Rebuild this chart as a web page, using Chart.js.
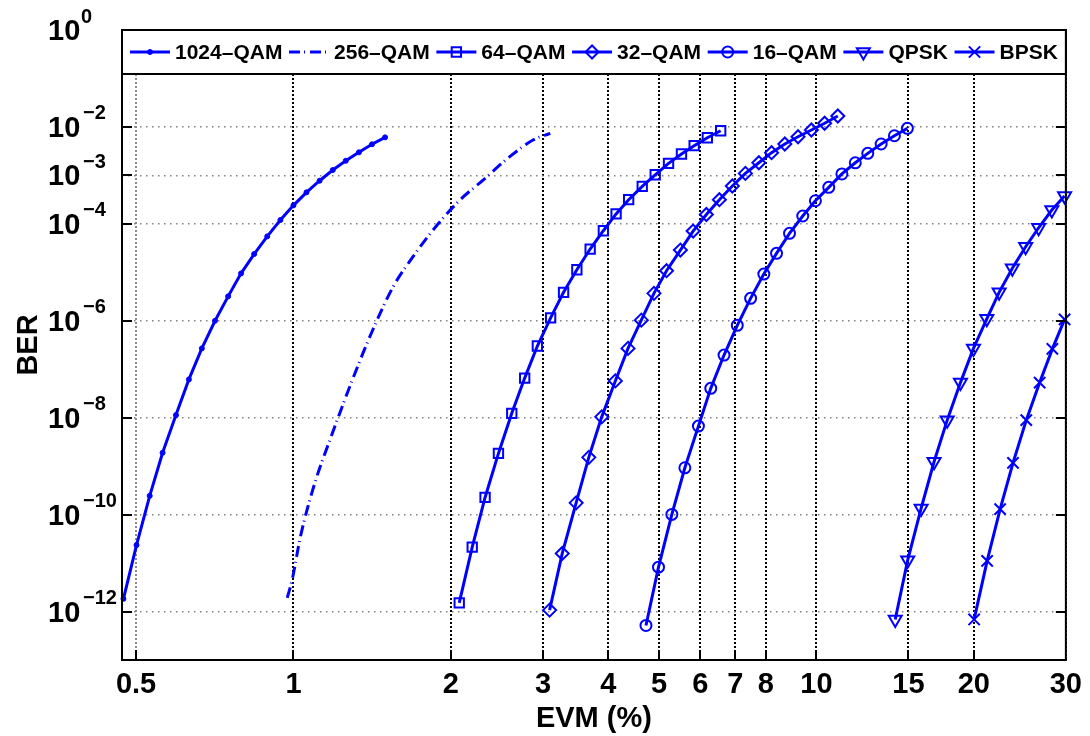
<!DOCTYPE html>
<html>
<head>
<meta charset="utf-8">
<script src="https://cdn.jsdelivr.net/npm/chart.js@4.4.0/dist/chart.umd.min.js"></script>
<style>
  body { margin: 0; background: #fff; }
  #wrap { width: 1090px; height: 736px; }
</style>
</head>
<body>
<div id="wrap"><canvas id="berChart" width="1090" height="736"></canvas></div>
<script>
const xTicks = [0.5, 1, 2, 3, 4, 5, 6, 7, 8, 10, 15, 20, 30];
const yTicks = [1, 1e-2, 1e-3, 1e-4, 1e-6, 1e-8, 1e-10, 1e-12];
const seriesLabels = ['1024\u2013QAM', '256\u2013QAM', '64\u2013QAM', '32\u2013QAM', '16\u2013QAM', 'QPSK', 'BPSK'];

const evm1024 = [0.473, 0.501, 0.531, 0.562, 0.596, 0.631, 0.668, 0.708, 0.750, 0.794, 0.841, 0.891, 0.944, 1.0, 1.059, 1.122, 1.189, 1.259, 1.334, 1.413, 1.497];
const ber1024 = [1.83e-12, 2.35e-11, 2.44e-10, 1.89e-9, 1.13e-8, 6.17e-8, 2.69e-7, 1.0e-6, 3.19e-6, 9.5e-6, 2.38e-5, 5.52e-5, 1.2e-4, 2.41e-4, 4.47e-4, 7.76e-4, 1.29e-3, 2.0e-3, 2.99e-3, 4.38e-3, 6.1e-3];

const evm256 = [0.973, 0.994, 1.031, 1.093, 1.193, 1.303, 1.413, 1.551, 1.693, 1.849, 2.081, 2.305, 2.592, 2.871, 3.098];
const ber256 = [1.92e-12, 4.45e-12, 3.48e-11, 3.75e-10, 5.55e-9, 6.98e-8, 5.93e-7, 5.03e-6, 2.1e-5, 7.45e-5, 3.1e-4, 8.0e-4, 2.43e-3, 5.37e-3, 7.38e-3];

const evm64 = [2.075, 2.197, 2.325, 2.466, 2.615, 2.768, 2.927, 3.103, 3.285, 3.483, 3.693, 3.914, 4.140, 4.375, 4.645, 4.918, 5.215, 5.521, 5.838, 6.187, 6.561];
const ber64 = [1.51e-12, 2.13e-11, 2.26e-10, 1.83e-9, 1.23e-8, 6.56e-8, 3.01e-7, 1.15e-6, 3.86e-6, 1.13e-5, 3.02e-5, 7.21e-5, 1.6e-4, 3.15e-4, 5.95e-4, 1.03e-3, 1.77e-3, 2.76e-3, 4.1e-3, 5.98e-3, 8.35e-3];

const evm32 = [3.089, 3.266, 3.472, 3.671, 3.886, 4.126, 4.363, 4.626, 4.891, 5.170, 5.495, 5.812, 6.161, 6.524, 6.907, 7.316, 7.762, 8.209, 8.703, 9.224, 9.783, 10.37, 10.99];
const ber32 = [1.07e-12, 1.58e-11, 1.75e-10, 1.52e-9, 1.04e-8, 5.74e-8, 2.69e-7, 1.03e-6, 3.68e-6, 1.08e-5, 2.88e-5, 7.1e-5, 1.56e-4, 3.15e-4, 6.03e-4, 1.1e-3, 1.82e-3, 2.94e-3, 4.44e-3, 6.28e-3, 8.63e-3, 1.19e-2, 1.68e-2];

const evm16 = [4.722, 4.990, 5.292, 5.604, 5.949, 6.281, 6.659, 7.059, 7.485, 7.935, 8.390, 8.884, 9.417, 9.957, 10.56, 11.19, 11.87, 12.54, 13.30, 14.10, 14.93];
const ber16 = [5.16e-13, 8.24e-12, 1.01e-10, 9.25e-10, 6.71e-9, 4.03e-8, 1.96e-7, 8.04e-7, 2.9e-6, 9.2e-6, 2.46e-5, 6.37e-5, 1.45e-4, 3.0e-4, 5.66e-4, 1.07e-3, 1.82e-3, 2.85e-3, 4.44e-3, 6.58e-3, 9.35e-3];

const evmQpsk = [14.15, 14.95, 15.86, 16.79, 17.79, 18.86, 19.97, 21.18, 22.36, 23.70, 25.13, 26.61, 28.20, 29.83];
const berQpsk = [6.87e-13, 1.15e-11, 1.34e-10, 1.23e-9, 8.9e-9, 5.3e-8, 2.69e-7, 1.1e-6, 3.86e-6, 1.21e-5, 3.37e-5, 8.3e-5, 1.93e-4, 3.75e-4];

const evmBpsk = [20.03, 21.21, 22.46, 23.77, 25.20, 26.73, 28.27, 29.83];
const berBpsk = [6.87e-13, 1.11e-11, 1.3e-10, 1.17e-9, 8.9e-9, 5.3e-8, 2.63e-7, 1.07e-6];

const blue = '#0000ff';
const FONT = '"Liberation Sans", Arial, sans-serif';

function pts(xs, ys) {
    return xs.map((x, i) => ({ x: x, y: ys[i] }));
}

function series(i, xs, ys, extra) {
    return Object.assign({
        label: seriesLabels[i],
        data: pts(xs, ys),
        borderColor: blue,
        backgroundColor: 'rgba(0,0,0,0)',
        borderWidth: 3,
        pointBorderColor: blue,
        pointBackgroundColor: 'rgba(0,0,0,0)',
        pointBorderWidth: 2,
        pointHoverRadius: 0,
        tension: 0,
        clip: false
    }, extra);
}

const datasets = [
    series(0, evm1024, ber1024, { pointStyle: 'circle', pointRadius: 2.5, pointBackgroundColor: blue, pointBorderWidth: 1 }),
    series(1, evm256, ber256, { pointRadius: 0, borderDash: [11, 4, 1, 5], cubicInterpolationMode: 'monotone' }),
    series(2, evm64, ber64, { pointStyle: 'rect', pointRadius: 6.6 }),
    series(3, evm32, ber32, { pointStyle: 'rectRot', pointRadius: 6.5 }),
    series(4, evm16, ber16, { pointStyle: 'circle', pointRadius: 5.5 }),
    series(5, evmQpsk, berQpsk, { pointStyle: 'triangle', pointRadius: 7.5, pointRotation: 180 }),
    series(6, evmBpsk, berBpsk, { pointStyle: 'crossRot', pointRadius: 8 })
];

// frame, inward ticks, y labels with exponents, legend box inside the axes
const decorPlugin = {
    id: 'decor',
    afterDraw(chart) {
        const ctx = chart.ctx;
        const a = chart.chartArea;
        const xs = chart.scales.x, ys = chart.scales.y;
        ctx.save();

        // tick marks
        ctx.strokeStyle = '#000';
        ctx.lineWidth = 2;
        ctx.setLineDash([]);
        ctx.beginPath();
        yTicks.forEach(v => {
            const py = Math.round(ys.getPixelForValue(v));
            if (py <= a.top + 1) return;
            ctx.moveTo(a.left, py); ctx.lineTo(a.left + 10, py);
            ctx.moveTo(a.right, py); ctx.lineTo(a.right - 10, py);
        });
        xTicks.forEach(v => {
            const px = Math.round(xs.getPixelForValue(v));
            if (px >= a.right - 1) return;
            ctx.moveTo(px, a.bottom); ctx.lineTo(px, a.bottom - 10);
        });
        ctx.stroke();

        // frame
        ctx.strokeRect(a.left, a.top, a.right - a.left, a.bottom - a.top);

        // y tick labels
        ctx.fillStyle = '#000';
        ctx.textAlign = 'left';
        ctx.textBaseline = 'middle';
        yTicks.forEach(v => {
            const py = ys.getPixelForValue(v);
            const e = Math.round(Math.log10(v));
            ctx.font = 'bold 29px ' + FONT;
            ctx.fillText('10', 48, py + 2);
            ctx.font = 'bold 20px ' + FONT;
            ctx.fillText(e === 0 ? '0' : '\u2212' + (-e), e === 0 ? 81 : 83, py - 13);
        });

        // legend box
        const lTop = a.top, lBot = a.top + 44;
        ctx.fillStyle = '#fff';
        ctx.fillRect(a.left, lTop, a.right - a.left, lBot - lTop);
        ctx.strokeRect(a.left, lTop, a.right - a.left, lBot - lTop);

        ctx.font = 'bold 21px ' + FONT;
        const widths = chart.data.datasets.map(d => ctx.measureText(d.label).width);
        const lineLen = 40, textGap = 5;
        const startX = a.left + 8, endX = a.right - 8;
        const total = widths.reduce((s, w) => s + w, 0) + chart.data.datasets.length * (lineLen + textGap);
        const gap = (endX - startX - total) / (chart.data.datasets.length - 1);
        const cy = lTop + 22;
        let x = startX;
        chart.data.datasets.forEach((d, i) => {
            ctx.strokeStyle = blue;
            ctx.lineWidth = 3;
            ctx.setLineDash(d.borderDash || []);
            ctx.beginPath();
            ctx.moveTo(x, cy); ctx.lineTo(x + lineLen, cy);
            ctx.stroke();
            ctx.setLineDash([]);
            if (d.pointRadius > 0) {
                ctx.fillStyle = d.pointBackgroundColor;
                ctx.lineWidth = d.pointBorderWidth;
                Chart.helpers.drawPoint(ctx, {
                    pointStyle: d.pointStyle,
                    radius: d.pointRadius,
                    rotation: d.pointRotation || 0,
                    borderWidth: d.pointBorderWidth
                }, x + lineLen / 2, cy);
            }
            ctx.fillStyle = '#000';
            ctx.font = 'bold 21px ' + FONT;
            ctx.fillText(d.label, x + lineLen + textGap, cy + 1);
            x += lineLen + textGap + widths[i] + gap;
        });

        ctx.restore();
    }
};

new Chart(document.getElementById('berChart'), {
    type: 'line',
    data: { datasets: datasets },
    options: {
        responsive: false,
        animation: false,
        devicePixelRatio: 1,
        layout: { padding: { top: 30, right: 22, left: 0, bottom: 0 } },
        plugins: {
            legend: { display: false },
            tooltip: { enabled: false }
        },
        scales: {
            x: {
                type: 'logarithmic',
                min: 0.47,
                max: 30,
                afterBuildTicks: s => { s.ticks = xTicks.map(v => ({ value: v })); },
                afterFit: s => { s.height = 76; },
                grid: {
                    drawTicks: false,
                    color: c => (c.tick && c.tick.value === 0.5) ? '#8a8a8a' : '#000',
                    lineWidth: 2
                },
                border: { display: false, dash: [2, 2] },
                ticks: {
                    color: '#000',
                    font: { family: FONT, size: 29, weight: 'bold' },
                    padding: 8,
                    maxRotation: 0,
                    autoSkip: false,
                    callback: v => String(v)
                },
                title: {
                    display: true,
                    text: 'EVM (%)',
                    color: '#000',
                    font: { family: FONT, size: 29, weight: 'bold' },
                    padding: { top: 0, bottom: 0 }
                }
            },
            y: {
                type: 'logarithmic',
                min: 1e-13,
                max: 1,
                afterBuildTicks: s => { s.ticks = yTicks.map(v => ({ value: v })); },
                afterFit: s => { s.width = 122; },
                grid: {
                    drawTicks: false,
                    color: '#808080',
                    lineWidth: 1.5
                },
                border: { display: false, dash: [1.5, 4.5] },
                ticks: { display: false },
                title: {
                    display: true,
                    text: 'BER',
                    color: '#000',
                    font: { family: FONT, size: 29, weight: 'bold' },
                    padding: { top: 12, bottom: 0 }
                }
            }
        }
    },
    plugins: [decorPlugin]
});
</script>
</body>
</html>
